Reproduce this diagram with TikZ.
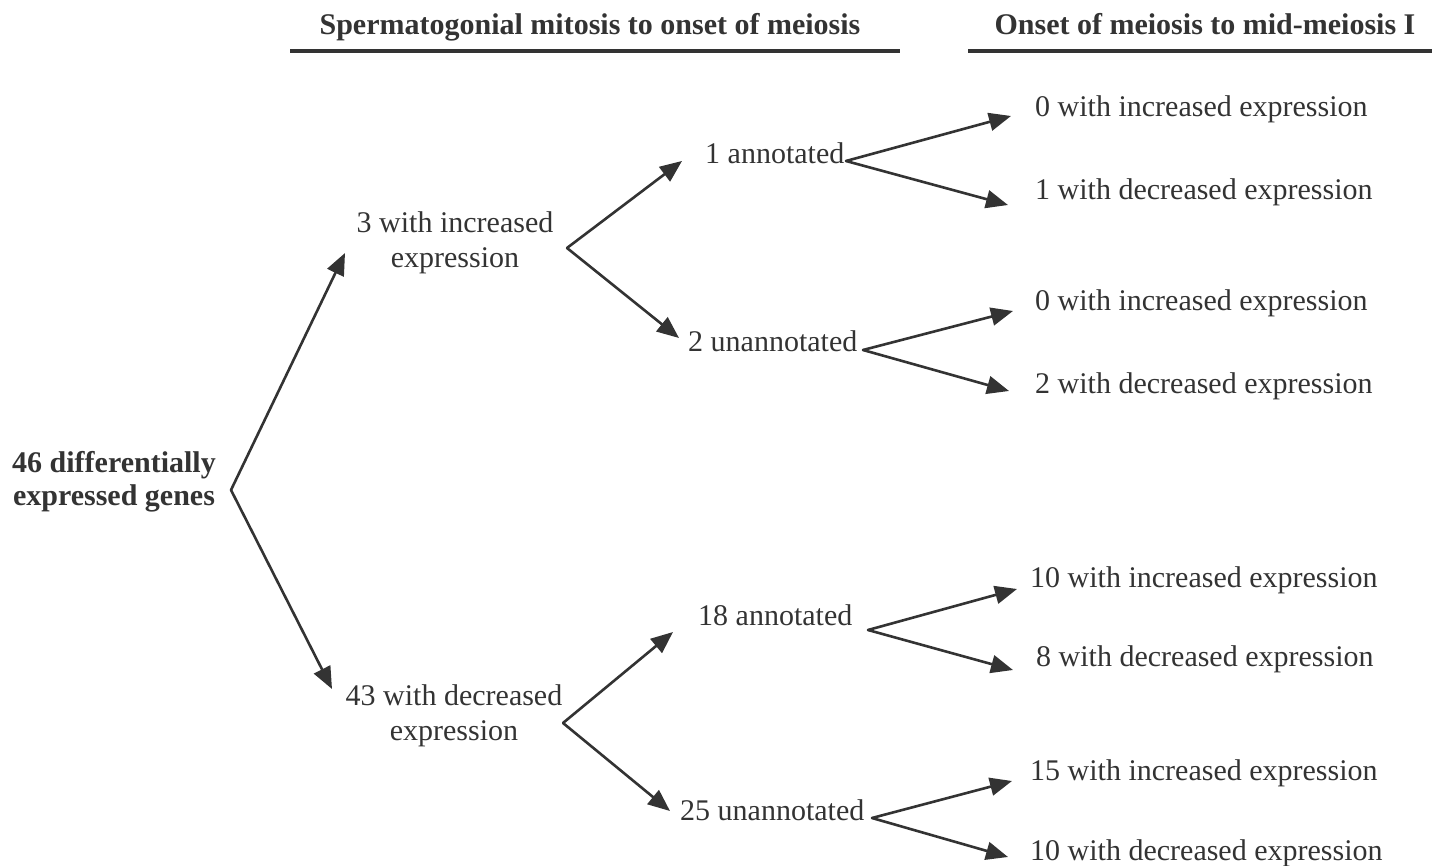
\documentclass[tikz,border=0pt]{standalone}
\usepackage{fontspec}
\setmainfont{Liberation Serif}
\usetikzlibrary{arrows.meta}
\definecolor{ink}{HTML}{333333}
\begin{document}
\begin{tikzpicture}[x=1pt,y=-1pt,
  lbl/.style={font=\fontsize{30}{35}\selectfont, text=ink, inner sep=0pt},
  lblw/.style={lbl, anchor=base west},
  hdr/.style={font=\fontsize{30}{35}\selectfont\bfseries, text=ink, inner sep=0pt, anchor=base},
  arr/.style={draw=ink, line width=2.6pt, line cap=round, -{Triangle[length=22pt,width=18pt]}},
  rulebar/.style={draw=ink, line width=3.5pt}]
\useasboundingbox (0,0) rectangle (1432,866);

% headers
\node[hdr] (h1) at (590,35) {Spermatogonial mitosis to onset of meiosis};
\node[hdr] (h2) at (1205,35) {Onset of meiosis to mid-meiosis I};
\draw[rulebar] (290,51) -- (900,51);
\draw[rulebar] (968,51) -- (1432,51);

% nodes
\node[lbl, font=\fontsize{30}{33}\selectfont\bfseries, align=center] (root) at (114,482) {46 differentially\\expressed genes};
\node[lbl, align=center] (n3) at (455,243) {3 with increased\\expression};
\node[lbl, align=center] (n43) at (454,716) {43 with decreased\\expression};
\node[lblw] (n1) at (705,164) {1 annotated};
\node[lblw] (n2) at (688,352) {2 unannotated};
\node[lblw] (n18) at (698,625) {18 annotated};
\node[lblw] (n25) at (680,820) {25 unannotated};
\node[lblw] (r1a) at (1035,117) {0 with increased expression};
\node[lblw] (r1b) at (1035,200) {1 with decreased expression};
\node[lblw] (r2a) at (1035,311) {0 with increased expression};
\node[lblw] (r2b) at (1035,393) {2 with decreased expression};
\node[lblw] (r3a) at (1030,587) {10 with increased expression};
\node[lblw] (r3b) at (1036,666) {8 with decreased expression};
\node[lblw] (r4a) at (1030,780) {15 with increased expression};
\node[lblw] (r4b) at (1030,860) {10 with decreased expression};

% branch points
\coordinate (a0) at (231,490);
\coordinate (a3) at (567,248);
\coordinate (a43) at (563,723);
\coordinate (a1) at (846,161);
\coordinate (a2) at (863,350);
\coordinate (a18) at (868,630);
\coordinate (a25) at (872,818);

% arrow tips next to the texts
\coordinate (t3) at (345,253);
\coordinate (t43) at (332,689);
\coordinate (t1) at (682,161);
\coordinate (t2) at (679,338);
\coordinate (t18) at (673,632);
\coordinate (t25) at (670,811);
\coordinate (t1a) at (1011,116);
\coordinate (t1b) at (1008,205);
\coordinate (t2a) at (1013,311);
\coordinate (t2b) at (1009,391);
\coordinate (t3a) at (1017,589);
\coordinate (t3b) at (1013,670);
\coordinate (t4a) at (1012,781);
\coordinate (t4b) at (1008,857);

% connectors
\draw[arr] (a0) -- (t3);
\draw[arr] (a0) -- (t43);
\draw[arr] (a3) -- (t1);
\draw[arr] (a3) -- (t2);
\draw[arr] (a43) -- (t18);
\draw[arr] (a43) -- (t25);
\draw[arr] (a1) -- (t1a);
\draw[arr] (a1) -- (t1b);
\draw[arr] (a2) -- (t2a);
\draw[arr] (a2) -- (t2b);
\draw[arr] (a18) -- (t3a);
\draw[arr] (a18) -- (t3b);
\draw[arr] (a25) -- (t4a);
\draw[arr] (a25) -- (t4b);
\end{tikzpicture}
\end{document}
